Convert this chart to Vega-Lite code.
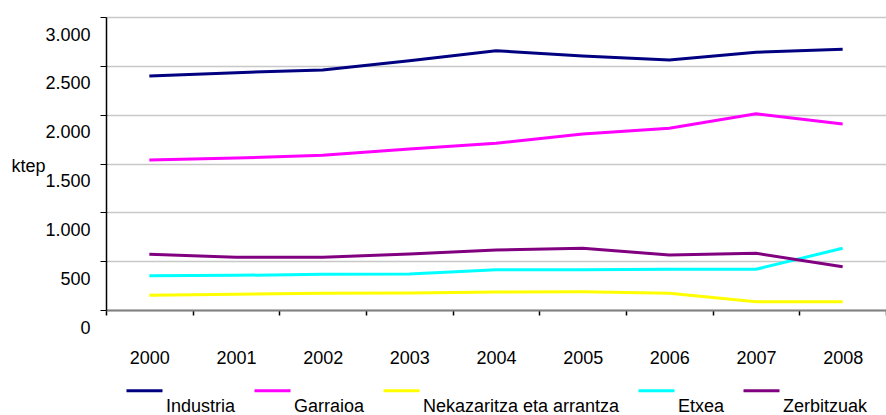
{
  "$schema": "https://vega.github.io/schema/vega-lite/v6.json",
  "width": 780,
  "height": 293,
  "autosize": {"type": "none"},
  "padding": {"left": 106, "top": 17, "right": 0, "bottom": 105},
  "background": "white",
  "config": {
    "font": "Liberation Sans",
    "view": {"stroke": null},
    "axis": {"labelFont": "Liberation Sans", "titleFont": "Liberation Sans", "labelColor": "#000", "titleColor": "#000"}
  },
  "data": {
    "values": [
      {"year": "2000", "sector": "Industria", "ktep": 2396},
      {"year": "2001", "sector": "Industria", "ktep": 2430},
      {"year": "2002", "sector": "Industria", "ktep": 2458},
      {"year": "2003", "sector": "Industria", "ktep": 2553},
      {"year": "2004", "sector": "Industria", "ktep": 2655},
      {"year": "2005", "sector": "Industria", "ktep": 2601},
      {"year": "2006", "sector": "Industria", "ktep": 2560},
      {"year": "2007", "sector": "Industria", "ktep": 2639},
      {"year": "2008", "sector": "Industria", "ktep": 2670},
      {"year": "2000", "sector": "Garraioa", "ktep": 1536},
      {"year": "2001", "sector": "Garraioa", "ktep": 1556},
      {"year": "2002", "sector": "Garraioa", "ktep": 1584},
      {"year": "2003", "sector": "Garraioa", "ktep": 1649},
      {"year": "2004", "sector": "Garraioa", "ktep": 1707},
      {"year": "2005", "sector": "Garraioa", "ktep": 1802},
      {"year": "2006", "sector": "Garraioa", "ktep": 1860},
      {"year": "2007", "sector": "Garraioa", "ktep": 2010},
      {"year": "2008", "sector": "Garraioa", "ktep": 1905},
      {"year": "2000", "sector": "Nekazaritza eta arrantza", "ktep": 150},
      {"year": "2001", "sector": "Nekazaritza eta arrantza", "ktep": 161},
      {"year": "2002", "sector": "Nekazaritza eta arrantza", "ktep": 171},
      {"year": "2003", "sector": "Nekazaritza eta arrantza", "ktep": 174},
      {"year": "2004", "sector": "Nekazaritza eta arrantza", "ktep": 184},
      {"year": "2005", "sector": "Nekazaritza eta arrantza", "ktep": 187},
      {"year": "2006", "sector": "Nekazaritza eta arrantza", "ktep": 171},
      {"year": "2007", "sector": "Nekazaritza eta arrantza", "ktep": 85},
      {"year": "2008", "sector": "Nekazaritza eta arrantza", "ktep": 85},
      {"year": "2000", "sector": "Etxea", "ktep": 351},
      {"year": "2001", "sector": "Etxea", "ktep": 355},
      {"year": "2002", "sector": "Etxea", "ktep": 365},
      {"year": "2003", "sector": "Etxea", "ktep": 369},
      {"year": "2004", "sector": "Etxea", "ktep": 413},
      {"year": "2005", "sector": "Etxea", "ktep": 413},
      {"year": "2006", "sector": "Etxea", "ktep": 417},
      {"year": "2007", "sector": "Etxea", "ktep": 417},
      {"year": "2008", "sector": "Etxea", "ktep": 632},
      {"year": "2000", "sector": "Zerbitzuak", "ktep": 570},
      {"year": "2001", "sector": "Zerbitzuak", "ktep": 540},
      {"year": "2002", "sector": "Zerbitzuak", "ktep": 540},
      {"year": "2003", "sector": "Zerbitzuak", "ktep": 573},
      {"year": "2004", "sector": "Zerbitzuak", "ktep": 614},
      {"year": "2005", "sector": "Zerbitzuak", "ktep": 632},
      {"year": "2006", "sector": "Zerbitzuak", "ktep": 563},
      {"year": "2007", "sector": "Zerbitzuak", "ktep": 580},
      {"year": "2008", "sector": "Zerbitzuak", "ktep": 443}
    ]
  },
  "mark": {"type": "line", "strokeWidth": 3},
  "encoding": {
    "x": {
      "field": "year",
      "type": "ordinal",
      "bandPosition": 0.5,
      "scale": {"type": "band", "paddingInner": 0, "paddingOuter": 0},
      "axis": {
        "title": null,
        "labelAngle": 0,
        "labelFontSize": 18,
        "tickBand": "extent",
        "tickSize": 5,
        "tickColor": "#000",
        "tickWidth": 1.5,
        "labelPadding": 34,
        "domainColor": "#808080",
        "domainWidth": 2,
        "grid": false
      }
    },
    "y": {
      "field": "ktep",
      "type": "quantitative",
      "scale": {"domain": [0, 3000]},
      "axis": {
        "values": [0, 500, 1000, 1500, 2000, 2500, 3000],
        "labelExpr": "replace(format(datum.value, ','), ',', '.')",
        "labelFontSize": 18,
        "labelOffset": 18,
        "labelPadding": 10,
        "tickSize": 6,
        "tickColor": "#000",
        "domainColor": "#000",
        "domainWidth": 1.5,
        "gridColor": "#c8c8c8",
        "gridWidth": 1.5,
        "title": "ktep",
        "titleAngle": 0,
        "titleFontSize": 18,
        "titleFontWeight": "normal",
        "titleAlign": "left",
        "titleBaseline": "middle",
        "titleX": -95,
        "titleY": 149
      }
    },
    "color": {
      "field": "sector",
      "type": "nominal",
      "scale": {
        "domain": ["Industria", "Garraioa", "Nekazaritza eta arrantza", "Etxea", "Zerbitzuak"],
        "range": ["#000080", "#ff00ff", "#ffff00", "#00ffff", "#800080"]
      },
      "legend": {
        "title": null,
        "orient": "none",
        "direction": "horizontal",
        "columns": 5,
        "legendX": 19,
        "legendY": 354,
        "padding": 0,
        "columnPadding": 12,
        "symbolType": "stroke",
        "symbolStrokeWidth": 3,
        "symbolSize": 1296,
        "labelFontSize": 18,
        "labelFont": "Liberation Sans",
        "labelColor": "#000",
        "labelBaseline": "top",
        "labelOffset": 2,
        "labelLimit": 400,
        "encode": {"labels": {"update": {"dy": {"value": 7}}}}
      }
    }
  }
}
